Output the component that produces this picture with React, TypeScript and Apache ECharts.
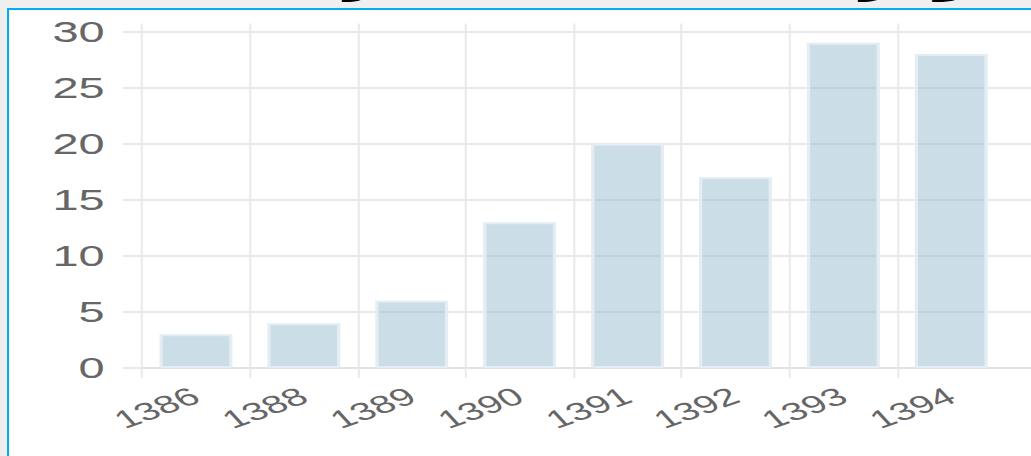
import React, { useEffect, useRef } from "react";
import * as echarts from "echarts";

const titleText = "نمودار تعداد مقالات منتشر شده به تفکیک سال";
const categories = ["1386", "1388", "1389", "1390", "1391", "1392", "1393", "1394"];
const values = [3, 4, 6, 13, 20, 17, 29, 28];
const yTicks = { min: 0, max: 30, interval: 5 };

const S = 1.62; // horizontal stretch of the reference
const PAGE_W = 1031;
const PAGE_H = 456;
const CHART_W = 760; // design width, wider than the page; clipped by the frame

export default function App() {
  const ref = useRef<HTMLDivElement>(null);

  useEffect(() => {
    if (!ref.current) return;
    const chart = echarts.init(ref.current, null, { renderer: "svg" });
    const axisData = [...categories, ""];
    const band = 107.9 / S;
    const gridLeft = 142 / S;
    const gridColor = "#e9e9e9";
    const hideLast = (i: number) => i < categories.length;
    chart.setOption({
      animation: false,
      title: {
        text: titleText,
        right: CHART_W - PAGE_W / S + 1,
        top: -38,
        textStyle: {
          fontSize: 32,
          fontWeight: "bold",
          color: "#000",
          fontFamily: "DejaVu Sans, Noto Sans, sans-serif",
        },
      },
      grid: {
        left: gridLeft,
        top: 31.5,
        width: band * axisData.length,
        height: 336.5,
        containLabel: false,
      },
      xAxis: [
        {
          type: "category",
          data: axisData,
          position: "bottom",
          boundaryGap: true,
          axisLine: { show: true, lineStyle: { color: "#e2e2e2", width: 2 } },
          axisTick: {
            show: true,
            length: 10,
            interval: (i: number) => hideLast(i),
            lineStyle: { color: gridColor, width: 2 / S },
          },
          splitLine: {
            show: true,
            interval: (i: number) => hideLast(i),
            lineStyle: { color: gridColor, width: 2 / S },
          },
          axisLabel: {
            interval: 0,
            rotate: 30,
            margin: 26,
            fontSize: 25,
            color: "#666",
            fontFamily: "Liberation Sans, Arial, sans-serif",
          },
        },
        {
          type: "category",
          data: axisData,
          position: "top",
          boundaryGap: true,
          axisLine: { show: false },
          axisTick: {
            show: true,
            length: 8,
            interval: (i: number) => hideLast(i),
            lineStyle: { color: gridColor, width: 2 / S },
          },
          axisLabel: { show: false },
          splitLine: { show: false },
        },
      ],
      yAxis: {
        type: "value",
        min: yTicks.min,
        max: yTicks.max,
        interval: yTicks.interval,
        axisLine: { show: false },
        axisTick: { show: true, length: 19 / S, lineStyle: { color: gridColor, width: 2 } },
        splitLine: { show: true, lineStyle: { color: gridColor, width: 2 } },
        axisLabel: {
          margin: 23,
          fontSize: 29,
          color: "#666",
          padding: [0, 0, 7, 0],
          fontFamily: "Liberation Sans, Arial, sans-serif",
        },
      },
      series: [
        {
          type: "bar",
          xAxisIndex: 0,
          data: values,
          barWidth: 45,
          itemStyle: {
            color: "rgba(151,187,205,0.5)",
            borderColor: "#e3edf3",
            borderWidth: 2,
          },
        },
      ],
    });
    return () => chart.dispose();
  }, []);

  return (
    <div
      style={{
        position: "fixed",
        left: 0,
        top: 0,
        width: PAGE_W,
        height: PAGE_H,
        background: "#efefef",
        overflow: "hidden",
      }}
    >
      <div
        style={{
          position: "absolute",
          left: 7,
          top: 8,
          right: 0,
          bottom: 0,
          background: "#fff",
          borderTop: "2px solid #00aeef",
          borderLeft: "2px solid #00aeef",
        }}
      />
      <div
        ref={ref}
        style={{
          position: "absolute",
          left: 0,
          top: 0,
          width: CHART_W,
          height: PAGE_H,
          transform: `scaleX(${S})`,
          transformOrigin: "0 0",
        }}
      />
    </div>
  );
}
